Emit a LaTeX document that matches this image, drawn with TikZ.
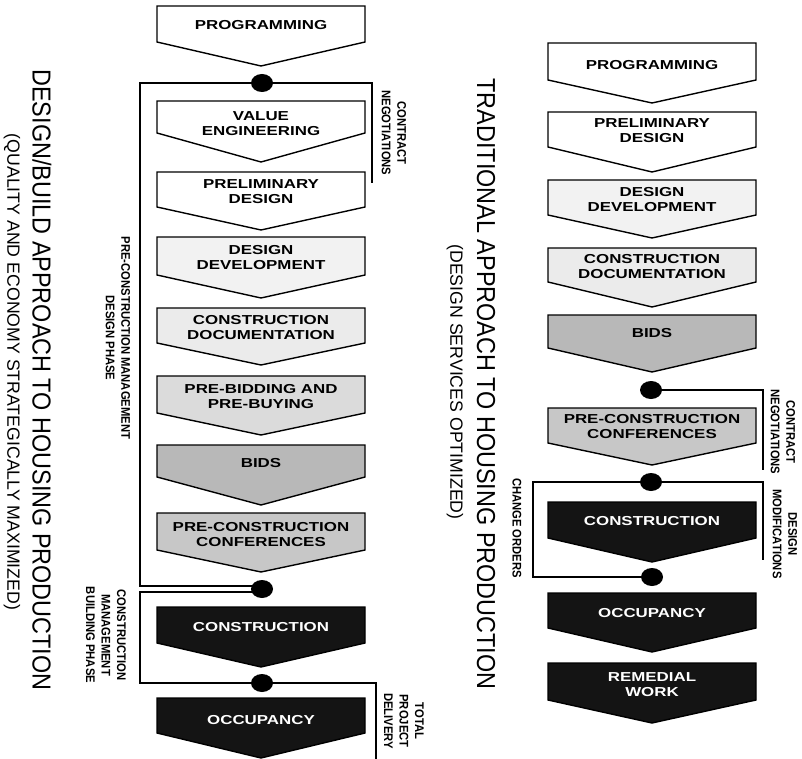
\documentclass[tikz,border=0pt]{standalone}
\usepackage{fontspec}
\setmainfont{Liberation Sans}
\newfontfamily\boxfont{Liberation Sans}[FakeStretch=1.3]
\newfontfamily\lblfont{Liberation Sans}[FakeStretch=0.9]
\newfontfamily\ttlfont{Liberation Sans}[FakeStretch=0.9]
\usetikzlibrary{shapes.geometric}

% one phase of a process column: name, centre x, top, side bottom, tip, text y, style, text
\newcommand\phase[8]{%
  \draw[#7] ({#2-104},#3) -- ({#2+104},#3) -- ({#2+104},#4) -- (#2,#5) -- ({#2-104},#4) -- cycle;
  \node[#7 txt] (#1) at (#2,#6) {#8};
}

\tikzset{
  boxline/.style={draw=black, line width=1.4pt, line join=miter},
  pw/.style={boxline, fill=white},
  pdd/.style={boxline, fill=black!5},
  pcd/.style={boxline, fill=black!8},
  ppb/.style={boxline, fill=black!14},
  pbid/.style={boxline, fill=black!28},
  pcc/.style={boxline, fill=black!22},
  pdark/.style={boxline, fill=black!92},
  boxtext/.style={inner sep=0pt, align=center,
    font=\boxfont\bfseries\fontsize{13}{15}\selectfont},
  pw txt/.style={boxtext},
  pdd txt/.style={boxtext},
  pcd txt/.style={boxtext},
  ppb txt/.style={boxtext},
  pbid txt/.style={boxtext},
  pcc txt/.style={boxtext},
  pdark txt/.style={boxtext, text=white},
  dot/.style={ellipse, fill=black, minimum width=22pt, minimum height=18pt, inner sep=0pt},
  link/.style={draw=black, line width=1.6pt},
  lbl/.style={rotate=-90, inner sep=0pt, align=center,
    font=\lblfont\bfseries\fontsize{12.5}{15.5}\selectfont},
  ttl/.style={rotate=-90, inner sep=0pt, font=\ttlfont\fontsize{26}{30}\selectfont},
  sttl/.style={rotate=-90, inner sep=0pt, font=\fontsize{17.7}{20}\selectfont},
}

\begin{document}
\begin{tikzpicture}[x=1pt, y=-1pt]
\useasboundingbox (0,0) rectangle (802,759);

% ---------- design/build column ----------
\phase{a1}{261}{6}{42}{66}{25}{pw}{PROGRAMMING}
\phase{a2}{261}{101}{133}{162}{124}{pw}{VALUE\\ENGINEERING}
\phase{a3}{261}{172}{207}{230}{192}{pw}{PRELIMINARY\\DESIGN}
\phase{a4}{261}{237}{275}{298}{258}{pdd}{DESIGN\\DEVELOPMENT}
\phase{a5}{261}{308}{343}{365}{328}{pcd}{CONSTRUCTION\\DOCUMENTATION}
\phase{a6}{261}{376}{413}{435}{397}{ppb}{PRE-BIDDING AND\\PRE-BUYING}
\phase{a7}{261}{445}{477}{505}{463}{pbid}{BIDS}
\phase{a8}{261}{513}{550}{572}{535}{pcc}{PRE-CONSTRUCTION\\CONFERENCES}
\phase{a9}{261}{607}{643}{667}{627}{pdark}{CONSTRUCTION}
\phase{a10}{261}{698}{733}{758}{720}{pdark}{OCCUPANCY}

\node[dot] (d1) at (262,83) {};
\node[dot] (d2) at (262,589) {};
\node[dot] (d3) at (262,683) {};

\coordinate (cnL) at (372,183);
\coordinate (lb1) at (140,586);
\coordinate (lb2) at (140,592);
\coordinate (tpd) at (376,759);

\draw[link] (d1) -| (cnL);
\draw[link] (d1) -| (lb1) -- (lb1 -| d2);
\draw[link] (lb2 -| d2) -- (lb2) |- (d3);
\draw[link] (d3) -| (tpd);

\node[lbl] (lcn) at (394,133) {CONTRACT\\NEGOTIATIONS};
\node[lbl] (lpcm) at (118,338) {PRE-CONSTRUCTION MANAGEMENT\\DESIGN PHASE};
\node[lbl] (lcm) at (106,635) {CONSTRUCTION\\MANAGEMENT\\BUILDING PHASE};
\node[lbl] (ltpd) at (404,721) {TOTAL\\PROJECT\\DELIVERY};

\node[ttl] (tl) at (42,380) {DESIGN/BUILD APPROACH TO HOUSING PRODUCTION};
\node[sttl] (stl) at (12,372) {(QUALITY AND ECONOMY STRATEGICALLY MAXIMIZED)};

% ---------- traditional column ----------
\phase{b1}{652}{43}{80}{103}{65}{pw}{PROGRAMMING}
\phase{b2}{652}{112}{147}{172}{131}{pw}{PRELIMINARY\\DESIGN}
\phase{b3}{652}{180}{215}{238}{200}{pdd}{DESIGN\\DEVELOPMENT}
\phase{b4}{652}{248}{282}{307}{267}{pcd}{CONSTRUCTION\\DOCUMENTATION}
\phase{b5}{652}{315}{348}{372}{333}{pbid}{BIDS}
\phase{b6}{652}{408}{443}{465}{427}{pcc}{PRE-CONSTRUCTION\\CONFERENCES}
\phase{b7}{652}{502}{538}{562}{521}{pdark}{CONSTRUCTION}
\phase{b8}{652}{593}{628}{652}{613}{pdark}{OCCUPANCY}
\phase{b9}{652}{663}{700}{723}{685}{pdark}{REMEDIAL\\WORK}

\node[dot] (r1) at (651,390) {};
\node[dot] (r2) at (651,482) {};
\node[dot] (r3) at (652,577) {};

\coordinate (cnR) at (763,470);
\coordinate (dmR) at (763,560);
\coordinate (coR) at (533,530);

\draw[link] (r1) -| (cnR);
\draw[link] (r2) -| (dmR);
\draw[link] (r2) -- (r2 -| coR) |- (r3);

\node[lbl] (rcn) at (783,432) {CONTRACT\\NEGOTIATIONS};
\node[lbl] (rdm) at (785,534) {DESIGN\\MODIFICATIONS};
\node[lbl] (rco) at (517,528) {CHANGE ORDERS};

\node[ttl] (tr) at (486,384) {TRADITIONAL APPROACH TO HOUSING PRODUCTION};
\node[sttl] (str) at (455,382) {(DESIGN SERVICES OPTIMIZED)};
\end{tikzpicture}
\end{document}
